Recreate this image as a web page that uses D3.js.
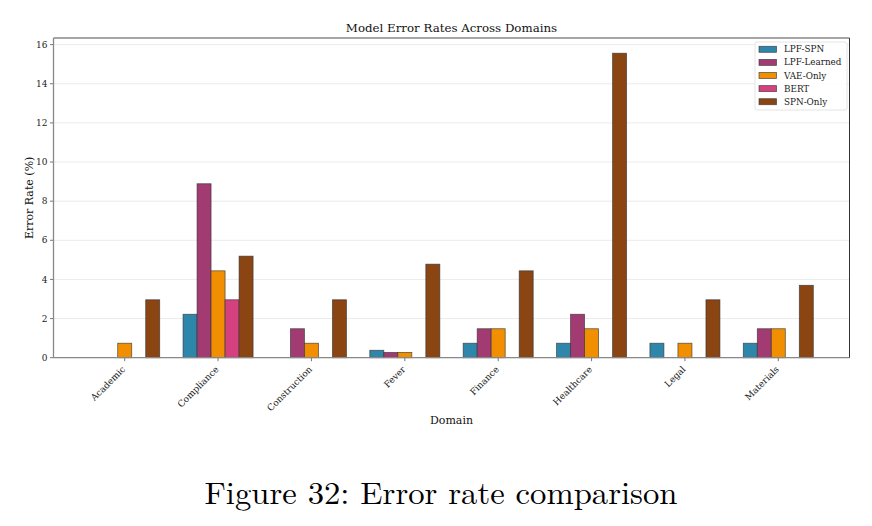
<!DOCTYPE html>
<html>
<head>
<meta charset="utf-8">
<script src="https://cdn.jsdelivr.net/npm/d3@7"></script>
<style>
  html, body { margin: 0; padding: 0; background: #ffffff; }
  svg text { font-family: "DejaVu Serif", serif; }
</style>
</head>
<body>
<svg id="chart" width="872" height="526"></svg>
<script>
// data
const domains = ["Academic", "Compliance", "Construction", "Fever", "Finance", "Healthcare", "Legal", "Materials"];
const seriesNames = ["LPF-SPN", "LPF-Learned", "VAE-Only", "BERT", "SPN-Only"];
const seriesColors = ["#2e86ab", "#a23b72", "#f18f01", "#d4417e", "#8b4513"];
const lpfSpn = [0, 2.22, 0, 0.38, 0.74, 0.74, 0.74, 0.74];
const lpfLearned = [0, 8.89, 1.48, 0.27, 1.48, 2.22, 0, 1.48];
const vaeOnly = [0.74, 4.44, 0.74, 0.27, 1.48, 1.48, 0.74, 1.48];
const bert = [null, 2.96, null, null, null, null, null, null];
const spnOnly = [2.96, 5.19, 2.96, 4.78, 4.44, 15.56, 2.96, 3.70];
const yTicks = [0, 2, 4, 6, 8, 10, 12, 14, 16];

const allSeries = [lpfSpn, lpfLearned, vaeOnly, bert, spnOnly];

const svg = d3.select("#chart");
const plot = { left: 53.5, right: 849.5, top: 38, bottom: 357.7 };
const barW = 0.15;

// x in "category units", like matplotlib with 5% margins
const nCat = domains.length;
const halfGroup = barW * seriesNames.length / 2;
const span = (nCat - 1) + 2 * halfGroup;
const x = d3.scaleLinear()
  .domain([-halfGroup - span * 0.05, nCat - 1 + halfGroup + span * 0.05])
  .range([plot.left, plot.right]);

const maxVal = d3.max(allSeries.flat().filter(v => v != null));
const y = d3.scaleLinear().domain([0, maxVal * 1.05]).range([plot.bottom, plot.top]);

// grid
svg.append("g")
  .selectAll("line")
  .data(yTicks)
  .join("line")
  .attr("x1", plot.left).attr("x2", plot.right)
  .attr("y1", d => y(d)).attr("y2", d => y(d))
  .attr("stroke", "#e6e6e6")
  .attr("stroke-width", 0.8);

// bars
const bars = [];
allSeries.forEach(function(vals, s) {
  vals.forEach(function(v, i) {
    if (v == null) return;
    bars.push({ s: s, i: i, v: v });
  });
});

svg.append("g")
  .selectAll("rect")
  .data(bars)
  .join("rect")
  .attr("x", d => x(d.i - halfGroup + d.s * barW))
  .attr("y", d => y(d.v))
  .attr("width", d => x(barW) - x(0))
  .attr("height", d => y(0) - y(d.v))
  .attr("fill", d => seriesColors[d.s])
  .attr("stroke", "#333333")
  .attr("stroke-opacity", 0.75)
  .attr("stroke-width", 0.8);

// y axis ticks and labels
const yAxis = svg.append("g");
yAxis.selectAll("line")
  .data(yTicks)
  .join("line")
  .attr("x1", plot.left - 3.5).attr("x2", plot.left)
  .attr("y1", d => y(d)).attr("y2", d => y(d))
  .attr("stroke", "#555555")
  .attr("stroke-width", 0.8);
yAxis.selectAll("text")
  .data(yTicks)
  .join("text")
  .attr("x", plot.left - 6)
  .attr("y", d => y(d))
  .attr("dy", "0.35em")
  .attr("text-anchor", "end")
  .attr("font-size", 9)
  .attr("fill", "#222")
  .text(d => d);

// x axis ticks and labels
const xAxis = svg.append("g");
xAxis.selectAll("line")
  .data(domains)
  .join("line")
  .attr("x1", (d, i) => x(i)).attr("x2", (d, i) => x(i))
  .attr("y1", plot.bottom).attr("y2", plot.bottom + 3.5)
  .attr("stroke", "#555555")
  .attr("stroke-width", 0.8);
xAxis.selectAll("text")
  .data(domains)
  .join("text")
  .attr("transform", (d, i) => "translate(" + (x(i) - 1) + "," + (plot.bottom + 10) + ") rotate(-45)")
  .attr("text-anchor", "end")
  .attr("dy", "0.35em")
  .attr("font-size", 9)
  .attr("fill", "#222")
  .text(d => d);

// spines
svg.append("line")
  .attr("x1", plot.left).attr("x2", plot.right)
  .attr("y1", plot.top).attr("y2", plot.top)
  .attr("stroke", "#888").attr("stroke-width", 1.3);
svg.append("line")
  .attr("x1", plot.left).attr("x2", plot.left)
  .attr("y1", plot.top).attr("y2", plot.bottom)
  .attr("stroke", "#888").attr("stroke-width", 1.3);
svg.append("line")
  .attr("x1", plot.left).attr("x2", plot.right)
  .attr("y1", plot.bottom).attr("y2", plot.bottom)
  .attr("stroke", "#888").attr("stroke-width", 1.3);
svg.append("line")
  .attr("x1", plot.right).attr("x2", plot.right)
  .attr("y1", plot.top).attr("y2", plot.bottom)
  .attr("stroke", "#333").attr("stroke-width", 1);

// titles
svg.append("text")
  .attr("x", (plot.left + plot.right) / 2)
  .attr("y", 32)
  .attr("text-anchor", "middle")
  .attr("font-size", 11.8)
  .attr("fill", "#111")
  .text("Model Error Rates Across Domains");

svg.append("text")
  .attr("transform", "translate(33," + ((plot.top + plot.bottom) / 2) + ") rotate(-90)")
  .attr("text-anchor", "middle")
  .attr("font-size", 11)
  .attr("fill", "#111")
  .text("Error Rate (%)");

svg.append("text")
  .attr("x", (plot.left + plot.right) / 2)
  .attr("y", 424)
  .attr("text-anchor", "middle")
  .attr("font-size", 11)
  .attr("fill", "#111")
  .text("Domain");

// legend
const legend = svg.append("g").attr("transform", "translate(755,42)");
legend.append("rect")
  .attr("x", 0).attr("y", 0)
  .attr("width", 92).attr("height", 68)
  .attr("rx", 2)
  .attr("fill", "#ffffff")
  .attr("fill-opacity", 0.85)
  .attr("stroke", "#dddddd")
  .attr("stroke-width", 0.8);
const items = legend.selectAll("g.item")
  .data(seriesNames)
  .join("g")
  .attr("class", "item")
  .attr("transform", (d, i) => "translate(4," + (7.3 + i * 13.1) + ")");
items.append("rect")
  .attr("x", 0).attr("y", -3)
  .attr("width", 17.5).attr("height", 6)
  .attr("fill", (d, i) => seriesColors[i])
  .attr("stroke", "#333333")
  .attr("stroke-opacity", 0.75)
  .attr("stroke-width", 0.8);
items.append("text")
  .attr("x", 25)
  .attr("y", 0)
  .attr("dy", "0.35em")
  .attr("font-size", 8.8)
  .attr("fill", "#222")
  .text(d => d);

// figure caption
svg.append("text")
  .attr("x", 441)
  .attr("y", 504)
  .attr("text-anchor", "middle")
  .attr("font-size", 31)
  .attr("textLength", 473)
  .attr("lengthAdjust", "spacingAndGlyphs")
  .attr("fill", "#000")
  .style("font-family", "'Latin Modern Roman', 'CMU Serif', 'Liberation Serif', serif")
  .text("Figure 32: Error rate comparison");
</script>
</body>
</html>
